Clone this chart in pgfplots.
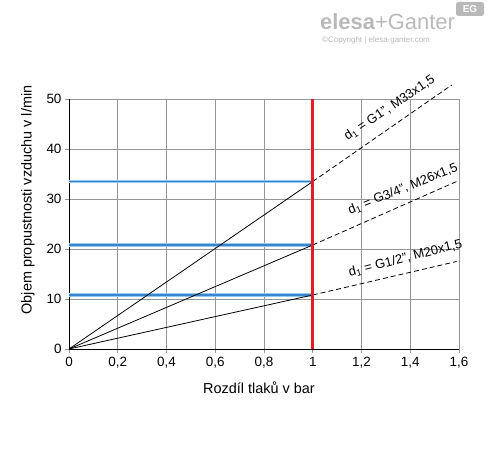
\documentclass[border=0pt]{standalone}
\usepackage{pgfplots}
\pgfplotsset{compat=1.18}
\usepackage{fontspec}
\setmainfont{Liberation Sans}
\definecolor{gridgray}{RGB}{150,150,150}
\definecolor{redline}{RGB}{228,30,38}
\definecolor{bluelight}{RGB}{150,200,238}
\definecolor{bluedark}{RGB}{55,135,205}
\definecolor{logogray}{RGB}{185,185,185}
\begin{document}
\begin{tikzpicture}[x=1bp,y=1bp]
\path[use as bounding box] (0,0) rectangle (488,454);
\begin{axis}[
  at={(69bp,105bp)}, anchor=south west,
  scale only axis, width=390bp, height=250bp,
  xmin=0, xmax=1.6, ymin=0, ymax=50,
  axis x line=bottom, axis y line=left,
  axis line style={black, line width=0.9pt, -},
  xtick={0,0.2,0.4,0.6,0.8,1,1.2,1.4,1.6},
  ytick={0,10,20,30,40,50},
  grid=major,
  major grid style={gridgray, line width=0.8pt},
  tick style={gridgray, line width=0.8pt},
  tick align=outside, major tick length=4bp,
  /pgf/number format/use comma,
  /pgf/number format/assume math mode=true,
  ticklabel style={font=\fontsize{13.5}{15}\selectfont, text=black},
  xticklabel style={yshift=-1bp},
  clip=false,
]
% blue horizontal lines
\addplot[bluelight, line width=3.5pt] coordinates {(0,33.5) (1,33.5)};
\addplot[bluelight, line width=3.5pt] coordinates {(0,20.8) (1,20.8)};
\addplot[bluelight, line width=3.5pt] coordinates {(0,10.8) (1,10.8)};
\addplot[bluedark, line width=1.1pt] coordinates {(0,33.5) (1,33.5)};
\addplot[bluedark, line width=1.1pt] coordinates {(0,20.8) (1,20.8)};
\addplot[bluedark, line width=1.1pt] coordinates {(0,10.8) (1,10.8)};
% solid lines
\addplot[black, line width=0.8pt] coordinates {(0,0) (1,33.5)};
\addplot[black, line width=0.8pt] coordinates {(0,0) (1,20.8)};
\addplot[black, line width=0.8pt] coordinates {(0,0) (1,10.8)};
% dashed extensions
\addplot[black, line width=0.8pt, dash pattern=on 5bp off 3bp] coordinates {(1,33.5) (1.57,52.8)};
\addplot[black, line width=0.8pt, dash pattern=on 5bp off 3bp] coordinates {(1,20.8) (1.59,33.5)};
\addplot[black, line width=0.8pt, dash pattern=on 5bp off 3bp] coordinates {(1,10.8) (1.59,17.5)};
% red line
\addplot[redline, line width=3pt] coordinates {(1,0) (1,50)};
% labels
\node[rotate=34, font=\fontsize{13}{14}\selectfont, inner sep=0] at (axis cs:1.315,48.2) {d\textsubscript{1} = G1", M33x1,5};
\node[rotate=22, font=\fontsize{13}{14}\selectfont, inner sep=0] at (axis cs:1.37,32.0) {d\textsubscript{1} = G3/4", M26x1,5};
\node[rotate=14.5, font=\fontsize{13}{14}\selectfont, inner sep=0] at (axis cs:1.38,18.1) {d\textsubscript{1} = G1/2", M20x1,5};
\end{axis}
% axis labels
\node[rotate=90, font=\fontsize{14.5}{16}\selectfont] at (28,254) {Objem propustnosti vzduchu v l/min};
\node[font=\fontsize{14.5}{16}\selectfont] at (259,66) {Rozdíl tlaků v bar};
% logo
\node[anchor=base west, font=\bfseries\fontsize{22}{24}\selectfont, text=logogray, inner sep=0] at (320,424) {elesa\mdseries+Ganter};
\node[anchor=base west, font=\fontsize{8}{9}\selectfont, text=logogray, inner sep=0] at (322,411) {\textcopyright Copyright | elesa-ganter.com};
\fill[logogray, rounded corners=2.5bp] (456,438) rectangle (484,452);
\node[font=\bfseries\fontsize{10}{11}\selectfont, text=white, inner sep=0] at (470,445) {EG};
\end{tikzpicture}
\end{document}
